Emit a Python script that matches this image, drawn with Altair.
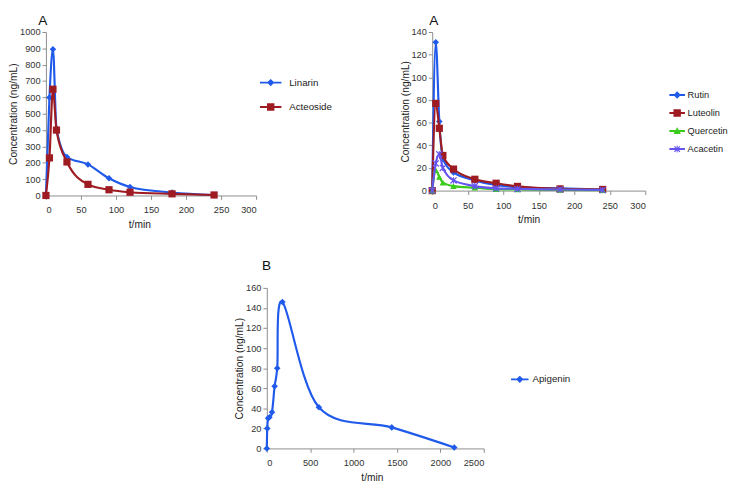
import altair as alt
import pandas as pd

# ---------------- data ----------------
t_a = [0, 5, 10, 15, 30, 60, 90, 120, 180, 240]
linarin = [0, 600, 895, 410, 235, 190, 105, 52, 18, 3]
acteoside = [0, 230, 650, 400, 205, 68, 35, 20, 10, 3]

rutin = [0, 131, 61, 28, 16, 9, 5, 3, 2, 1]
luteolin = [0, 77, 55, 31, 19, 10, 6.5, 3.7, 1.5, 1]
quercetin = [0, 18, 12, 7, 4, 2.5, 1.2, 1, 0.6, 0.4]
acacetin = [0, 24, 32, 20, 9, 4, 2, 1.5, 1, 0.5]

t_b = [0, 5, 15, 30, 60, 90, 120, 180, 600, 1440, 2160]
apigenin = [0, 20, 30, 31, 36, 62, 80, 146, 41, 21, 1]

x_ticks_a = [0, 50, 100, 150, 200, 250, 300]
y_ticks_1 = [0, 100, 200, 300, 400, 500, 600, 700, 800, 900, 1000]
y_ticks_2 = [0, 20, 40, 60, 80, 100, 120, 140]
x_ticks_b = [0, 500, 1000, 1500, 2000, 2500]
y_ticks_b = [0, 20, 40, 60, 80, 100, 120, 140, 160]

BLUE = "#1F5AEB"
RED = "#9E1B22"
GREEN = "#3BCB1C"
PURPLE = "#6454F0"
FONT = "Liberation Sans"


def long_df(t, series):
    rows = []
    for name, vals in series:
        for ti, v in zip(t, vals):
            rows.append({"t": ti, "c": v, "series": name})
    return pd.DataFrame(rows)


def marker_path(kind, half):
    bar = f"M{-half},-0.25H{half}V0.25H{-half}Z "
    if kind == "diamond":
        m = "M0,-0.95L0.95,0L0,0.95L-0.95,0Z"
    elif kind == "square":
        m = "M-0.95,-0.95H0.95V0.95H-0.95Z"
    elif kind == "triangle":
        m = "M0,-0.95L0.95,0.75H-0.95Z"
    else:
        m = ("M-0.8,-0.6L-0.6,-0.8L0.8,0.6L0.6,0.8Z "
             "M0.6,-0.8L0.8,-0.6L-0.6,0.8L-0.8,0.6Z "
             "M-0.12,-0.9H0.12V0.9H-0.12Z")
    return bar + m


POINT_SHAPE = {
    "diamond": ("diamond", 45, True),
    "square": ("square", 55, True),
    "triangle": ("triangle-up", 45, True),
    "x": ("M-1,-1L1,1M1,-1L-1,1M0,-1L0,1", 40, False),
}


def panel(t, series, kinds, colors, xdom, xticks, ydom, yticks, w, h, letter,
          title_dx, title_offset, lx, ly, row_pad, half, label_offset, interp,
          xtitle_x, leg_font=10):
    names = [n for n, _ in series]
    df = long_df(t, series)
    base = alt.Chart(df)
    xenc = alt.X("t:Q", scale=alt.Scale(domain=xdom, nice=False, zero=False),
                 axis=alt.Axis(values=xticks, title="t/min", format="d",
                               titleX=xtitle_x))
    yenc = alt.Y("c:Q", scale=alt.Scale(domain=ydom, nice=False),
                 axis=alt.Axis(values=yticks, title="Concentration (ng/mL)", format="d"))
    layers = []
    for name, kind, col in zip(names, kinds, colors):
        sub = base.transform_filter(alt.datum.series == name)
        layers.append(sub.mark_line(interpolate=interp, strokeWidth=2.2, color=col)
                      .encode(x=xenc, y=yenc, order=alt.Order("t:Q")))
        shp, size, filled = POINT_SHAPE[kind]
        props = dict(shape=shp, size=size, filled=filled, opacity=1, color=col)
        if not filled:
            props["strokeWidth"] = 1.2
        layers.append(sub.mark_point(**props).encode(x=xenc, y=yenc))
    leg = alt.Legend(title=None, orient="none", legendX=lx, legendY=ly, padding=0,
                     rowPadding=row_pad, labelOffset=label_offset, symbolSize=64,
                     symbolOpacity=1, symbolStrokeWidth=0, labelFontSize=leg_font,
                     labelFont=FONT, labelColor="#222")
    legend_layer = base.mark_point(filled=True).encode(
        x=xenc, y=yenc, opacity=alt.value(0),
        color=alt.Color("series:N", scale=alt.Scale(domain=names, range=colors),
                        legend=leg),
        shape=alt.Shape("series:N",
                        scale=alt.Scale(domain=names,
                                        range=[marker_path(k, half) for k in kinds]),
                        legend=leg))
    layers.append(legend_layer)
    return alt.layer(*layers).properties(
        width=w, height=h,
        title=alt.TitleParams(letter, anchor="start", frame="group", fontSize=14,
                              fontWeight="normal", font=FONT, color="#111",
                              offset=title_offset, dx=title_dx))


p1 = panel(t_a, [("Linarin", linarin), ("Acteoside", acteoside)],
           ["diamond", "square"], [BLUE, RED],
           [0, 300], x_ticks_a, [0, 1000], y_ticks_1, 216, 168, "A",
           -8, -1, 226, 47, 15, 2.75, 14, "monotone", 96)

p2 = panel(t_a, [("Rutin", rutin), ("Luteolin", luteolin),
                 ("Quercetin", quercetin), ("Acacetin", acacetin)],
           ["diamond", "square", "triangle", "x"], [BLUE, RED, GREEN, PURPLE],
           [0, 300], x_ticks_a, [0, 140], y_ticks_2, 219, 163, "A",
           -3, -1, 247, 60, 7.5, 2.0, 6, "monotone", 99, 9.5)

p3 = panel(t_b, [("Apigenin", apigenin)], ["diamond"], [BLUE],
           [0, 2500], x_ticks_b, [0, 160], y_ticks_b, 223, 165, "B",
           -5, 10, 255, 89, 8, 2.25, 8, "cardinal", 108)

spacer = alt.Chart(pd.DataFrame({"a": [0]})).mark_point(opacity=0).encode(
    x=alt.value(0), y=alt.value(0)).properties(width=194, height=10)

indep = dict(color="independent", shape="independent")

top = alt.hconcat(p1, p2, spacing=70).resolve_scale(**indep).resolve_legend(**indep)
bottom = alt.hconcat(spacer, p3, spacing=0).resolve_scale(**indep).resolve_legend(**indep)

chart = alt.vconcat(top, bottom, spacing=31).resolve_scale(**indep).resolve_legend(
    **indep
).properties(
    padding={"left": 0, "top": 0, "right": 0, "bottom": 0}
).configure_view(strokeWidth=0).configure_axis(
    grid=False, domainColor="#8C8C8C", tickColor="#8C8C8C", domainWidth=1,
    tickSize=4, labelFont=FONT, labelFontSize=9.5, labelColor="#333",
    labelPadding=2, titleFont=FONT, titleFontSize=10.5, titleFontWeight="normal",
    titleColor="#222", titlePadding=1
).configure_axisX(labelPadding=6, titlePadding=5)

chart.save("out.html", embed_options={"renderer": "svg", "actions": False})
